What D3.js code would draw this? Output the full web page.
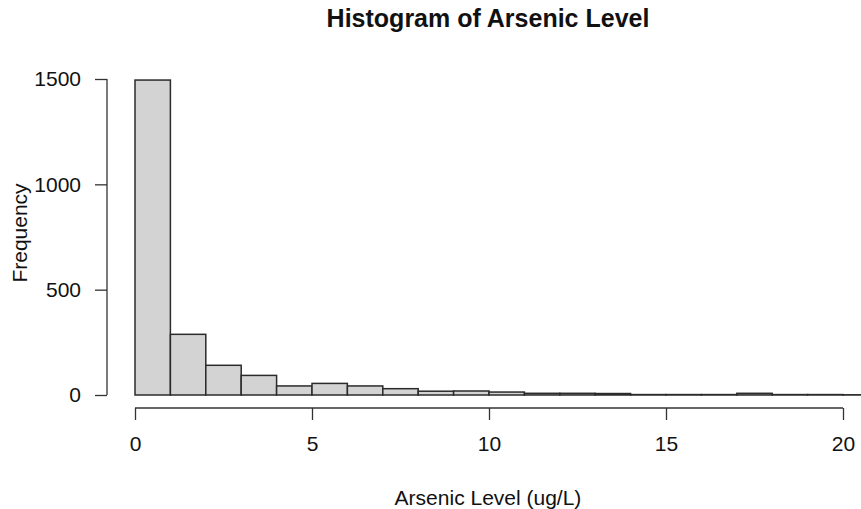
<!DOCTYPE html>
<html>
<head>
<meta charset="utf-8">
<script src="https://cdn.jsdelivr.net/npm/d3@7"></script>
<style>
  html, body { margin: 0; padding: 0; background: #fff; }
  svg { display: block; font-family: "Liberation Sans", Arial, sans-serif; }
</style>
</head>
<body>
<svg id="chart" width="861" height="509"></svg>
<script>
// Histogram bins (lower edges, width 1 ug/L) and frequencies
const binStarts = [0,1,2,3,4,5,6,7,8,9,10,11,12,13,14,15,16,17,18,19,20];
const counts    = [1495,288,141,93,43,55,43,30,18,19,14,8,8,7,2,2,2,8,2,2,1];
const xTickValues = [0,5,10,15,20];
const yTickValues = [0,500,1000,1500];
const titleText = "Histogram of Arsenic Level";
const xLabelText = "Arsenic Level (ug/L)";
const yLabelText = "Frequency";

const svg = d3.select("#chart");
const x = d3.scaleLinear().domain([0, 20]).range([135, 843]);
const y = d3.scaleLinear().domain([0, 1500]).range([395, 79]);

// bars
svg.append("g").selectAll("rect")
  .data(binStarts.map((b, i) => ({x0: b, x1: b + 1, n: counts[i]})))
  .join("rect")
  .attr("x", d => x(d.x0))
  .attr("y", d => y(d.n))
  .attr("width", d => x(d.x1) - x(d.x0))
  .attr("height", d => y(0) - y(d.n))
  .attr("fill", "#d3d3d3")
  .attr("stroke", "#2b2b2b")
  .attr("stroke-width", 1.5);

// x axis
const xAxis = svg.append("g")
  .attr("transform", "translate(0,408)")
  .call(d3.axisBottom(x).tickValues(xTickValues).tickFormat(d3.format("d"))
    .tickSize(12).tickSizeOuter(0).tickPadding(16));
// y axis
const yAxis = svg.append("g")
  .attr("transform", "translate(107,0)")
  .call(d3.axisLeft(y).tickValues(yTickValues).tickFormat(d3.format("d"))
    .tickSize(12).tickSizeOuter(0).tickPadding(14));

[xAxis, yAxis].forEach(a => {
  a.select(".domain").attr("stroke", "#333").attr("stroke-width", 1.3);
  a.selectAll(".tick line").attr("stroke", "#333").attr("stroke-width", 1.3);
  a.selectAll(".tick text").attr("font-size", 21)
    .attr("font-family", "Liberation Sans, Arial, sans-serif").attr("fill", "#111");
});
xAxis.select(".domain").attr("d", `M${x(0)},0H${x(20)}`);
yAxis.select(".domain").attr("d", `M0,${y(0)}V${y(1500)}`);

// title
svg.append("text")
  .attr("x", 488).attr("y", 27)
  .attr("text-anchor", "middle")
  .attr("font-size", 25).attr("font-weight", "bold").attr("fill", "#111")
  .text(titleText);

// x label
svg.append("text")
  .attr("x", 488).attr("y", 505)
  .attr("text-anchor", "middle")
  .attr("font-size", 21).attr("fill", "#111")
  .text(xLabelText);

// y label
svg.append("text")
  .attr("transform", "translate(27,233) rotate(-90)")
  .attr("text-anchor", "middle")
  .attr("font-size", 21).attr("fill", "#111")
  .text(yLabelText);
</script>
</body>
</html>
